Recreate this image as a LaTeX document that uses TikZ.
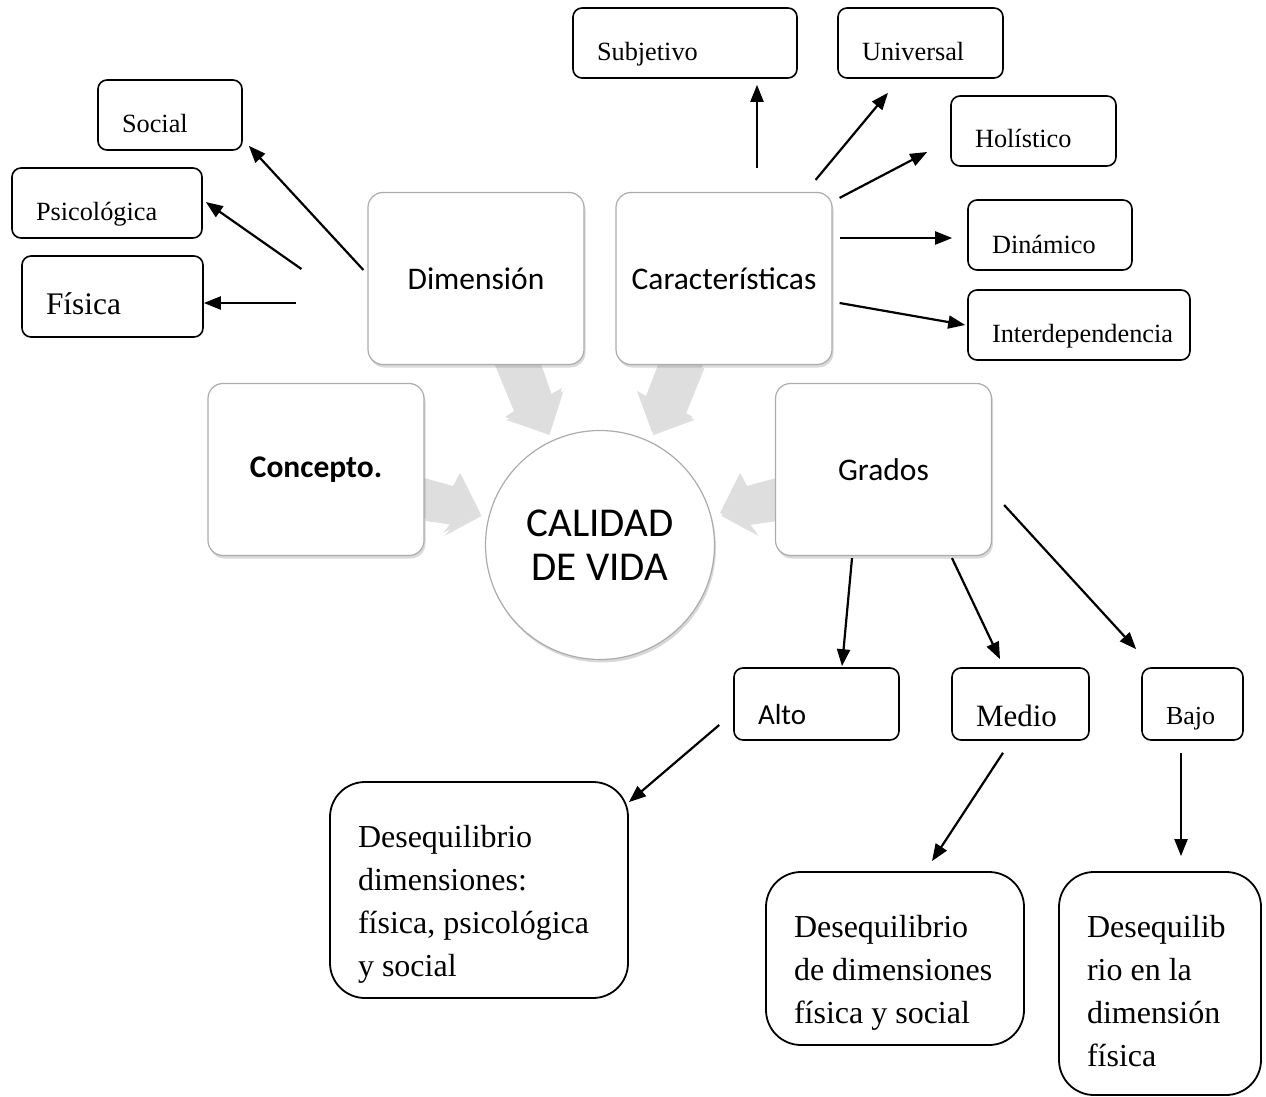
\documentclass[tikz,border=0pt]{standalone}
\usepackage{fontspec}
\setmainfont{Liberation Serif}
\newfontfamily\calfont{Carlito}
\usetikzlibrary{arrows.meta, calc, shadows}

\tikzset{
  leaf/.style={draw, line width=1.6pt, rounded corners=9pt, align=left,
    inner xsep=24pt, inner ysep=0pt, minimum height=70pt,
    text height=36pt, text depth=0pt, font=\fontsize{26.3}{30}\selectfont},
  pillar/.style={draw=gray!65, line width=1.2pt, fill=white, rounded corners=15pt,
    minimum width=216pt, minimum height=172pt,
    font=\calfont\fontsize{31.5}{36}\selectfont,
    drop shadow={shadow xshift=1.5pt, shadow yshift=-3pt, opacity=0.3}},
  note/.style={draw, line width=1.8pt, rounded corners=35pt, align=flush left,
    inner xsep=28pt, inner ysep=0pt, text height=20pt,
    font=\fontsize{32}{43}\selectfont},
  link/.style={-{Triangle[length=17pt,width=13pt]}, line width=2.2pt},
  bigarrow/.style={fill=black!13,
    drop shadow={shadow xshift=1.5pt, shadow yshift=-3pt, opacity=0.25}}
}

\begin{document}
\begin{tikzpicture}[x=1pt, y=-1pt]
    \useasboundingbox (0,0) rectangle (1266,1097);

    % block arrows into the centre
    \fill[bigarrow] (495,365) -- (514,411) -- (505,417) -- (548,432) -- (562,388) -- (551,394) -- (541,365) -- cycle;
    \fill[bigarrow] (658,365) -- (646,396) -- (637,391) -- (652,432) -- (693,417) -- (684,412) -- (703,365) -- cycle;
    \fill[bigarrow] (424,478) -- (453,486) -- (460,473) -- (480,513) -- (443,533) -- (452,522) -- (424,518) -- cycle;
    \fill[bigarrow] (776,478) -- (747,486) -- (740,473) -- (720,513) -- (757,533) -- (748,522) -- (776,518) -- cycle;

    \node[circle, draw=gray!65, line width=1.2pt, fill=white, minimum size=229pt,
      align=center, font=\calfont\fontsize{41}{44}\selectfont,
      drop shadow={shadow xshift=1.5pt, shadow yshift=-3pt, opacity=0.3}] (cdv) at (600,545) {CALIDAD\\DE VIDA};

    \node[pillar] (dim) at (476,278.5) {Dimensión};
    \node[pillar] (car) at (724,278.5) {Características};
    \node[pillar, font=\calfont\bfseries\fontsize{31.5}{36}\selectfont] (con) at (316,469.5) {Concepto.};
    \node[pillar] (gra) at (883.5,469.5) {Grados};

    % dimensiones
    \node[leaf, text width=96pt, text height=34pt] (social) at (170,115) {Social};
    \node[leaf, text width=142pt, text height=34pt] (psico) at (107,203) {Psicológica};
    \node[leaf, text width=133pt, minimum height=81pt, text height=35pt,
      font=\fontsize{31.4}{36}\selectfont] (fisica) at (112.5,296.5) {Física};

    % caracteristicas
    \node[leaf, text width=176pt] (subj) at (685,43) {Subjetivo};
    \node[leaf, text width=117pt] (univ) at (920.5,43) {Universal};
    \node[leaf, text width=117pt, text height=34pt] (holis) at (1033.5,131) {Holístico};
    \node[leaf, text width=116pt] (dinam) at (1050,235) {Dinámico};
    \node[leaf, text width=174pt, text height=34pt] (inter) at (1079,325) {Interdependencia};

    % grados
    \node[leaf, text width=117pt, minimum height=72pt, text height=40pt,
      font=\calfont\fontsize{29}{34}\selectfont] (alto) at (816.5,704) {Alto};
    \node[leaf, text width=89pt, minimum height=72pt, text height=44pt,
      font=\fontsize{31}{36}\selectfont] (medio) at (1020.5,704) {Medio};
    \node[leaf, text width=53pt, minimum height=72pt, text height=40pt,
      font=\fontsize{26}{30}\selectfont] (bajo) at (1192.5,704) {Bajo};

    \node[note, text width=242pt, minimum height=216pt, text depth=106pt] (des1) at (479,890)
      {Desequilibrio\\dimensiones:\\física, psicológica\\y social};
    \node[note, text width=202pt, minimum height=173pt, text depth=63pt] (des2) at (895,958.5)
      {Desequilibrio\\de dimensiones\\física y social};
    \node[note, text width=146pt, minimum height=223pt, text depth=113pt] (des3) at (1160,983.5)
      {Desequilib\\rio en la\\dimensión\\física};

    \draw[link] ($(dim.west)+(-4,-8.5)$) -- ($(social.south east)+(6,-5)$);
    \draw[link] ($(dim.west)+(-66,-9.5)$) -- ($(psico.east)+(3,-1)$);
    \draw[link] ($(dim.west)+(-71,24.5)$) -- ($(fisica.east)+(0,6.5)$);

    \draw[link] ($(car.north)+(33,-24)$) -- ($(subj.south)+(72,6)$);
    \draw[link] ($(car.north east)+(-17,-12)$) -- ($(univ.south)+(-32.5,14)$);
    \draw[link] ($(car.north east)+(7,6)$) -- ($(holis.west)+(-23,21)$);
    \draw[link] ($(car.east)+(7,-40.5)$) -- ($(dinam.west)+(-15,3)$);
    \draw[link] ($(car.east)+(7,24.5)$) -- ($(inter.west)+(-2,0)$);

    \draw[link] ($(gra.south)+(-31.5,2)$) -- ($(alto.north)+(25.5,-1)$);
    \draw[link] ($(gra.south)+(68.5,2)$) -- ($(medio.north)+(-20.5,-8)$);
    \draw[link] ($(gra.east)+(12,35.5)$) -- ($(bajo.north west)+(-5,-18)$);

    \draw[link] ($(alto.west)+(-14,21)$) -- ($(des1.north east)+(0,21)$);
    \draw[link] ($(medio.south)+(-17.5,12)$) -- ($(des2.north)+(37,-10)$);
    \draw[link] ($(bajo.south)+(-11.5,12)$) -- ($(des3.north)+(21,-15)$);
\end{tikzpicture}
\end{document}
